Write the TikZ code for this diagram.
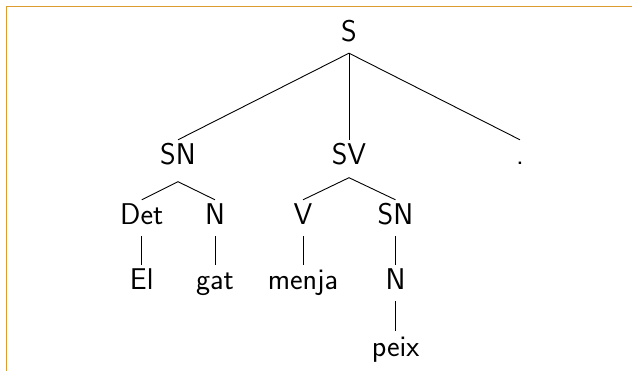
\documentclass[tikz,border=0pt]{standalone}
\usepackage{tikz}
\definecolor{framecol}{RGB}{222,156,48}
\begin{document}
\begin{tikzpicture}[x=1pt,y=-1pt,
  cat/.style={font=\fontsize{30}{36}\selectfont\sffamily, anchor=base,
    inner xsep=2pt, inner ysep=5pt, text height=20pt, text depth=6pt},
  branch/.style={draw=black, line width=0.9pt}]
\useasboundingbox (0,0) rectangle (632,371);
% partial frame (top and left edges)
\draw[framecol, line width=1.6pt] (6.5,371) -- (6.5,6.5) -- (632,6.5);

% nodes, placed on their baselines
\node[cat] (s)    at (349,42)  {S};
\node[cat] (sn)   at (178,165) {SN};
\node[cat] (sv)   at (349,165) {SV};
\node[cat] (pt)   at (520,165) {.};
\node[cat] (det)  at (141.7,225) {Det};
\node[cat] (n)    at (215,225) {N};
\node[cat] (v)    at (303,225) {V};
\node[cat] (snb)  at (395.5,225) {SN};
\node[cat] (el)   at (141.7,290) {El};
\node[cat] (gat)  at (215,290) {gat};
\node[cat] (menja) at (303,290) {menja};
\node[cat] (nb)   at (395.5,290) {N};
\node[cat] (peix) at (395.5,356) {peix};

% branches
\draw[branch] (sn.north) -- (s.south) -- (pt.north);
\draw[branch] (s.south) -- (sv.north);
\draw[branch] (det.north) -- ([yshift=-5.5pt]sn.south) -- (n.north);
\draw[branch] (v.north) -- ([yshift=-1.5pt]sv.south) -- (snb.north);
\draw[branch] (det.south) -- (el.north);
\draw[branch] (n.south) -- (gat.north);
\draw[branch] (v.south) -- (menja.north);
\draw[branch] (snb.south) -- (nb.north);
\draw[branch] (nb.south) -- (peix.north);
\end{tikzpicture}
\end{document}
